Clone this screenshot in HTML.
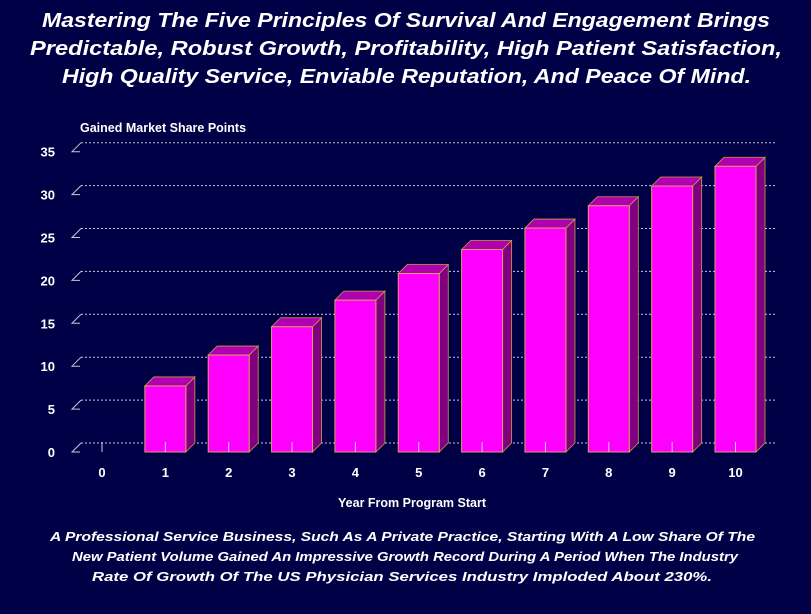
<!DOCTYPE html>
<html><head><meta charset="utf-8">
<style>
html,body{margin:0;padding:0;background:#000046;}
svg{display:block;font-family:"Liberation Sans",Arial,sans-serif;}
</style></head>
<body>
<svg id="chart" width="811" height="614" viewBox="0 0 811 614" xmlns="http://www.w3.org/2000/svg">
<rect x="0" y="0" width="811" height="614" fill="#000046"/>
<g fill="#fff" font-weight="bold" font-style="italic" font-size="20">
<text x="42" y="27" textLength="728" lengthAdjust="spacingAndGlyphs">Mastering The Five Principles Of Survival And Engagement Brings</text>
<text x="30" y="55" textLength="752" lengthAdjust="spacingAndGlyphs">Predictable, Robust  Growth, Profitability, High Patient Satisfaction,</text>
<text x="62" y="83" textLength="689" lengthAdjust="spacingAndGlyphs">High Quality Service, Enviable Reputation, And Peace Of Mind.</text>
</g>
<text x="80" y="132" fill="#fff" font-weight="bold" font-size="12.5">Gained Market Share Points</text>
<text x="412" y="507" fill="#fff" font-weight="bold" font-size="12.5" text-anchor="middle">Year From Program Start</text>
<g fill="#fff" font-weight="bold" font-style="italic" font-size="13">
<text x="50" y="541" textLength="705" lengthAdjust="spacingAndGlyphs">A Professional Service Business, Such As A Private Practice, Starting With A Low Share Of The</text>
<text x="72" y="561" textLength="666" lengthAdjust="spacingAndGlyphs">New Patient Volume Gained An Impressive Growth Record During A Period When The Industry</text>
<text x="92" y="581" textLength="620" lengthAdjust="spacingAndGlyphs">Rate Of Growth Of The US Physician Services Industry Imploded About 230%.</text>
</g>
<g id="grid"></g>
<g id="bars"></g>
<g id="labels"></g>
</svg>
<script>
const categories = ["0","1","2","3","4","5","6","7","8","9","10"];
const values = [0, 7.7, 11.3, 14.6, 17.7, 20.8, 23.6, 26.1, 28.7, 31.0, 33.3];
const yTicks = [0,5,10,15,20,25,30,35];

const NS="http://www.w3.org/2000/svg";
const y0=452, pxPer=8.58, dx=9, dy=9;
const x0=102, step=63.35, bw=41;
function yScale(v){return y0 - v*pxPer;}
function xCenter(i){return x0 + i*step;}
function mk(tag,attrs,parent){const e=document.createElementNS(NS,tag);for(const k in attrs)e.setAttribute(k,attrs[k]);parent.appendChild(e);return e;}
const grid=document.getElementById('grid'), bars=document.getElementById('bars'), labels=document.getElementById('labels');

yTicks.forEach(t=>{
  const y=yScale(t);
  const g=mk('line',{x1:72+dx,y1:y-dy,x2:776,y2:y-dy,stroke:'#c8c8d8','stroke-width':1,'stroke-dasharray':'2,2'},grid);
  
  
  const m=mk('polyline',{points:`${80},${y} ${72},${y} ${72+dx},${y-dy}`,fill:'none',stroke:'#c8c8d8','stroke-width':1},grid);
  
  
  const l=mk('text',{x:55,y:y+5,fill:'#fff','font-weight':'bold','font-size':13,'text-anchor':'end'},labels);
  l.textContent=t;
  
  
});

categories.forEach((c,i)=>{
  const cx=xCenter(i), v=values[i];
  if(v>0){
    const xl=cx-bw/2, xr=cx+bw/2, yt=yScale(v);
    const g=mk('g',{},bars);
    
    
    mk('polygon',{points:`${xr},${y0} ${xr+dx},${y0-dy} ${xr+dx},${yt-dy} ${xr},${yt}`,fill:'#800080',stroke:'#c9a040','stroke-width':0.8},g);
    mk('polygon',{points:`${xl},${yt} ${xl+dx},${yt-dy} ${xr+dx},${yt-dy} ${xr},${yt}`,fill:'#b000b0',stroke:'#c9a040','stroke-width':0.8},g);
    mk('rect',{x:xl,y:yt,width:bw,height:y0-yt,fill:'#ff00ff',stroke:'#d8a060','stroke-width':1},g);
  }
  const tk=mk('line',{x1:cx,y1:y0,x2:cx,y2:y0-10,stroke:'#e0c8e0','stroke-width':1},bars);
  
  
  const l=mk('text',{x:cx,y:477,fill:'#fff','font-weight':'bold','font-size':13,'text-anchor':'middle'},labels);
  l.textContent=c;
  
  
});
</script>
</body></html>
